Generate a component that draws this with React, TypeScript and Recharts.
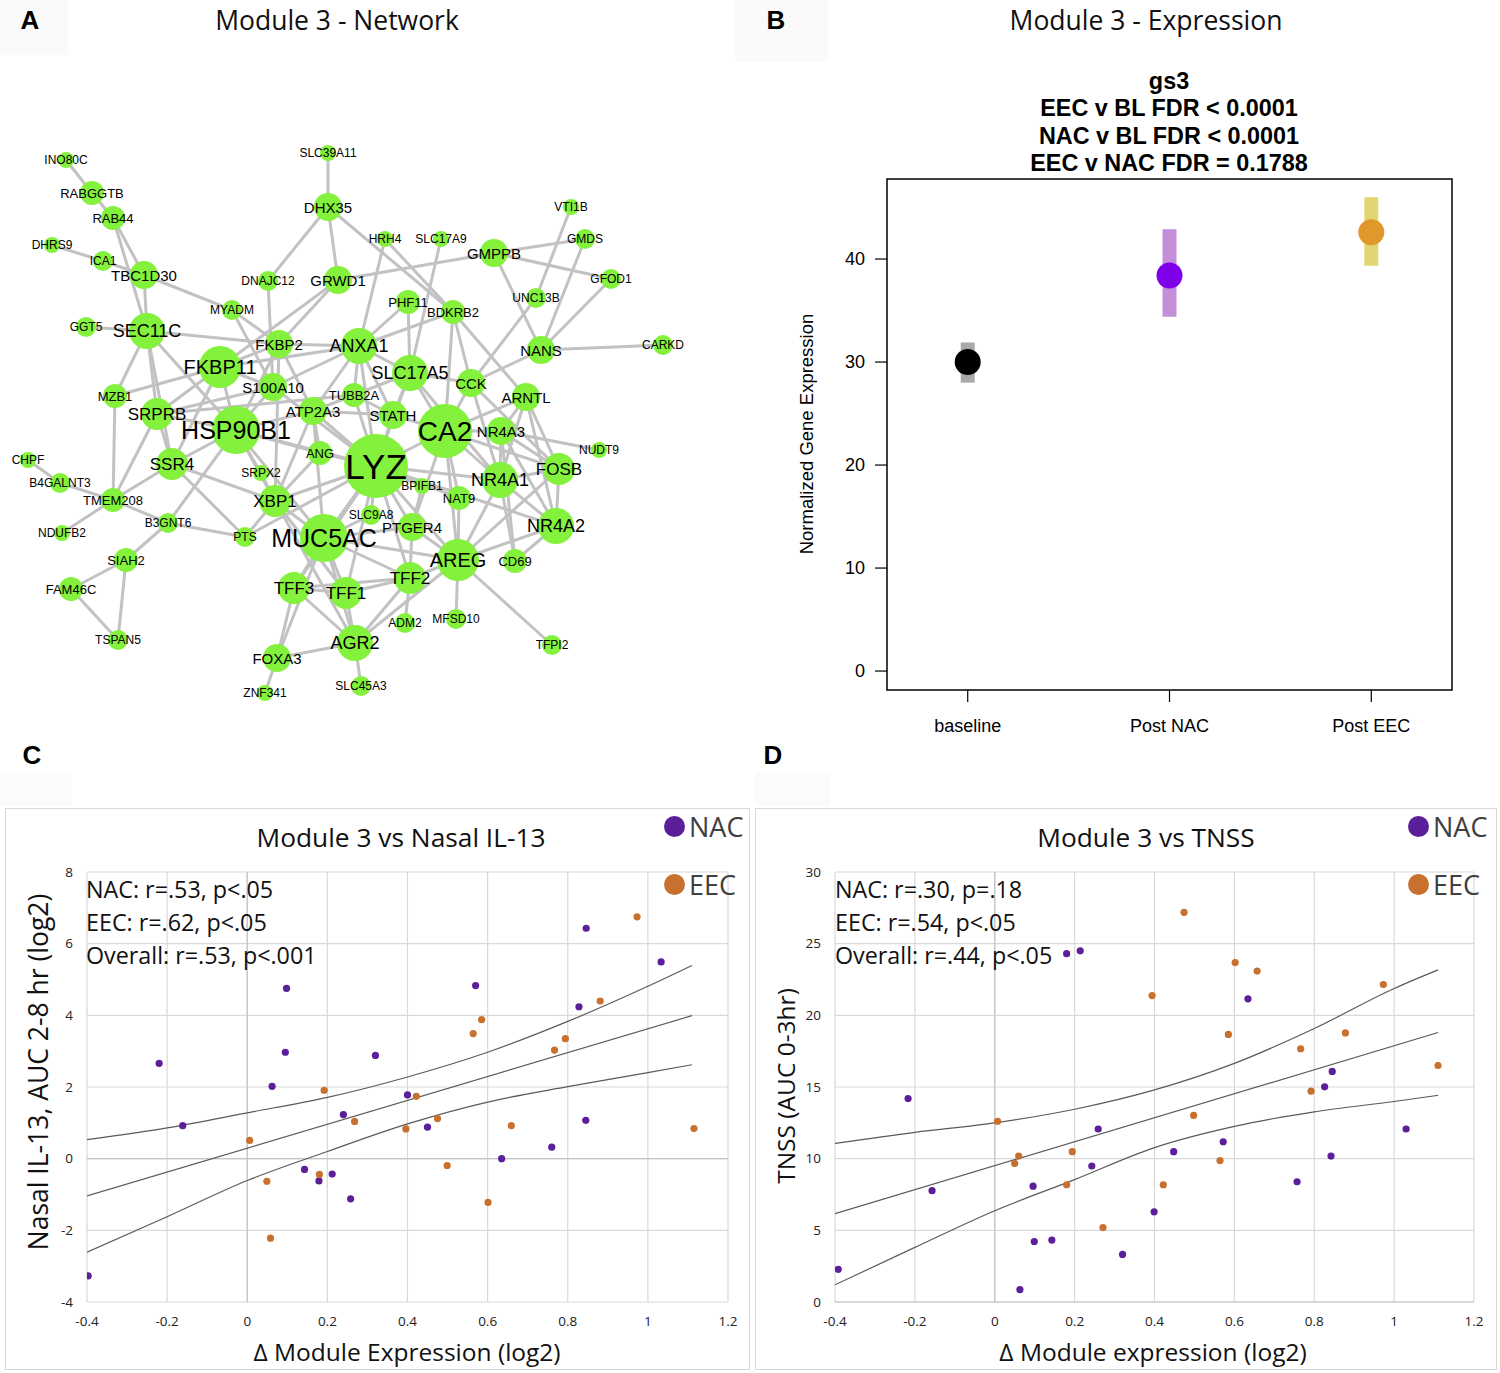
import React from "react";
import {
  ScatterChart,
  Scatter,
  XAxis,
  YAxis,
  CartesianGrid,
  ReferenceArea,
  ReferenceLine,
  ErrorBar,
} from "recharts";

// ---------- Panel A: module 3 network (layout coordinates + hub tier) ----------
const NET_NODES: [string, number, number, number][] = [
  ["INO80C", 66, 160, 1], ["RABGGTB", 92, 193, 3], ["RAB44", 113, 218, 3],
  ["DHRS9", 52, 245, 1], ["ICA1", 103, 261, 2], ["TBC1D30", 144, 275, 4],
  ["GGT5", 86, 327, 2], ["SEC11C", 147, 331, 6], ["MYADM", 232, 310, 2],
  ["DNAJC12", 268, 281, 2], ["GRWD1", 338, 280, 4], ["DHX35", 328, 207, 4],
  ["SLC39A11", 328, 153, 1], ["HRH4", 385, 239, 1], ["SLC17A9", 441, 239, 1],
  ["GMPPB", 494, 253, 4], ["VTI1B", 571, 207, 1], ["GMDS", 585, 239, 2],
  ["GFOD1", 611, 279, 2], ["UNC13B", 536, 298, 2], ["PHF11", 408, 302, 3],
  ["BDKRB2", 453, 312, 3], ["CARKD", 663, 345, 2], ["NANS", 541, 350, 4],
  ["ANXA1", 359, 346, 6], ["FKBP2", 279, 344, 4], ["FKBP11", 220, 367, 7],
  ["S100A10", 273, 387, 4], ["SLC17A5", 410, 373, 6], ["CCK", 471, 383, 4],
  ["ARNTL", 526, 397, 4], ["TUBB2A", 354, 395, 3], ["MZB1", 115, 396, 3],
  ["SRPRB", 157, 414, 5], ["HSP90B1", 236, 430, 8], ["ATP2A3", 313, 411, 4],
  ["STATH", 393, 415, 4], ["CA2", 445, 431, 9], ["NR4A3", 501, 431, 4],
  ["NUDT9", 599, 450, 1], ["ANG", 320, 453, 3], ["LYZ", 376, 466, 10],
  ["FOSB", 559, 469, 5], ["CHPF", 28, 460, 1], ["B4GALNT3", 60, 483, 2],
  ["SSR4", 172, 464, 5], ["SRPX2", 261, 473, 1], ["NR4A1", 500, 480, 6],
  ["BPIFB1", 422, 486, 1], ["NAT9", 459, 498, 3], ["TMEM208", 113, 500, 3],
  ["XBP1", 275, 501, 5], ["SLC9A8", 371, 515, 2], ["B3GNT6", 168, 523, 2],
  ["NR4A2", 556, 526, 6], ["PTGER4", 412, 527, 4], ["NDUFB2", 62, 533, 1],
  ["PTS", 245, 537, 2], ["MUC5AC", 324, 538, 8], ["AREG", 458, 560, 7],
  ["CD69", 515, 561, 3], ["SIAH2", 126, 560, 3], ["TFF2", 410, 578, 5],
  ["TFF3", 294, 588, 5], ["TFF1", 346, 593, 5], ["FAM46C", 71, 589, 3],
  ["MFSD10", 456, 619, 2], ["ADM2", 405, 623, 2], ["TSPAN5", 118, 640, 2],
  ["TFPI2", 552, 645, 2], ["AGR2", 355, 643, 6], ["FOXA3", 277, 658, 4],
  ["SLC45A3", 361, 686, 2], ["ZNF341", 265, 693, 1],
];

const NET_EDGES: [string, string][] = [
  ["INO80C", "RABGGTB"], ["RABGGTB", "RAB44"], ["RAB44", "TBC1D30"], ["RAB44", "SEC11C"],
  ["DHRS9", "ICA1"], ["ICA1", "TBC1D30"], ["TBC1D30", "SEC11C"], ["TBC1D30", "MYADM"],
  ["MYADM", "FKBP2"], ["MYADM", "S100A10"], ["GGT5", "SEC11C"], ["SEC11C", "FKBP2"],
  ["SEC11C", "MZB1"], ["SEC11C", "SRPRB"], ["SEC11C", "HSP90B1"], ["SEC11C", "SSR4"],
  ["DNAJC12", "DHX35"], ["DNAJC12", "S100A10"], ["DHX35", "SLC39A11"], ["DHX35", "GRWD1"],
  ["DHX35", "BDKRB2"], ["GRWD1", "GMPPB"], ["GRWD1", "FKBP2"], ["GRWD1", "FKBP11"],
  ["MZB1", "FKBP11"], ["MZB1", "TMEM208"], ["FKBP11", "ANXA1"], ["FKBP11", "HSP90B1"],
  ["FKBP11", "SRPRB"], ["FKBP11", "SSR4"], ["FKBP11", "S100A10"], ["FKBP11", "FKBP2"],
  ["FKBP2", "HSP90B1"], ["FKBP2", "ATP2A3"], ["FKBP2", "ANXA1"], ["FKBP2", "XBP1"],
  ["S100A10", "ANXA1"], ["S100A10", "HSP90B1"], ["S100A10", "LYZ"], ["S100A10", "SRPRB"],
  ["SRPRB", "TUBB2A"], ["SRPRB", "HSP90B1"], ["SRPRB", "SSR4"], ["SRPRB", "TMEM208"],
  ["HSP90B1", "ATP2A3"], ["HSP90B1", "LYZ"], ["HSP90B1", "XBP1"], ["HSP90B1", "SRPX2"],
  ["HSP90B1", "SSR4"], ["HSP90B1", "B3GNT6"], ["HSP90B1", "MUC5AC"], ["HSP90B1", "ANG"],
  ["HRH4", "ANXA1"], ["HRH4", "BDKRB2"], ["SLC17A9", "SLC17A5"], ["GMPPB", "GMDS"],
  ["GMPPB", "GFOD1"], ["GMPPB", "NANS"], ["VTI1B", "UNC13B"], ["GMDS", "NANS"],
  ["GFOD1", "NANS"], ["UNC13B", "CCK"], ["NANS", "CARKD"], ["NANS", "CCK"],
  ["PHF11", "SLC17A5"], ["PHF11", "ANXA1"], ["BDKRB2", "ANXA1"], ["BDKRB2", "CA2"],
  ["BDKRB2", "CCK"], ["BDKRB2", "ARNTL"], ["ANXA1", "TUBB2A"], ["ANXA1", "LYZ"],
  ["ANXA1", "SLC17A5"], ["ANXA1", "ATP2A3"], ["ANXA1", "STATH"], ["SLC17A5", "CA2"],
  ["SLC17A5", "LYZ"], ["SLC17A5", "STATH"], ["SLC17A5", "TUBB2A"], ["SLC17A5", "CCK"],
  ["SLC17A5", "NR4A1"], ["CCK", "CA2"], ["CCK", "NR4A1"], ["CCK", "FOSB"],
  ["ARNTL", "CA2"], ["ARNTL", "NR4A3"], ["ARNTL", "FOSB"], ["ARNTL", "NR4A2"],
  ["ARNTL", "NR4A1"], ["TUBB2A", "LYZ"], ["TUBB2A", "ATP2A3"], ["TUBB2A", "STATH"],
  ["ATP2A3", "LYZ"], ["ATP2A3", "ANG"], ["ATP2A3", "STATH"], ["ATP2A3", "XBP1"],
  ["ATP2A3", "MUC5AC"], ["STATH", "LYZ"], ["STATH", "CA2"], ["CA2", "LYZ"],
  ["CA2", "NR4A3"], ["CA2", "NR4A1"], ["CA2", "NAT9"], ["CA2", "AREG"],
  ["CA2", "PTGER4"], ["CA2", "FOSB"], ["NR4A3", "NR4A1"], ["NR4A3", "FOSB"],
  ["NR4A3", "NUDT9"], ["NR4A3", "NR4A2"], ["NR4A3", "CD69"], ["NR4A1", "FOSB"],
  ["NR4A1", "NR4A2"], ["NR4A1", "AREG"], ["NR4A1", "CD69"], ["NR4A1", "LYZ"],
  ["FOSB", "NR4A2"], ["FOSB", "AREG"], ["NR4A2", "AREG"], ["NR4A2", "CD69"],
  ["LYZ", "ANG"], ["LYZ", "XBP1"], ["LYZ", "MUC5AC"], ["LYZ", "SLC9A8"],
  ["LYZ", "PTGER4"], ["LYZ", "BPIFB1"], ["LYZ", "AREG"], ["LYZ", "TFF2"],
  ["LYZ", "NAT9"], ["LYZ", "PTS"], ["LYZ", "TFF1"], ["LYZ", "TFF3"],
  ["LYZ", "NR4A2"], ["BPIFB1", "PTGER4"], ["NAT9", "AREG"], ["PTGER4", "AREG"],
  ["PTGER4", "TFF2"], ["PTGER4", "MUC5AC"], ["SLC9A8", "MUC5AC"], ["XBP1", "ANG"],
  ["XBP1", "MUC5AC"], ["XBP1", "PTS"], ["XBP1", "TFF1"], ["XBP1", "AGR2"],
  ["XBP1", "SSR4"], ["XBP1", "SRPX2"], ["SSR4", "PTS"], ["SSR4", "TMEM208"],
  ["CHPF", "B4GALNT3"], ["B4GALNT3", "TMEM208"], ["NDUFB2", "TMEM208"], ["TMEM208", "B3GNT6"],
  ["B3GNT6", "PTS"], ["B3GNT6", "SIAH2"], ["SIAH2", "FAM46C"], ["SIAH2", "TSPAN5"],
  ["FAM46C", "TSPAN5"], ["MUC5AC", "TFF3"], ["MUC5AC", "TFF1"], ["MUC5AC", "AGR2"],
  ["MUC5AC", "TFF2"], ["MUC5AC", "FOXA3"], ["MUC5AC", "AREG"], ["TFF3", "TFF1"],
  ["TFF3", "FOXA3"], ["TFF3", "AGR2"], ["TFF3", "TFF2"], ["TFF1", "AGR2"],
  ["TFF1", "TFF2"], ["TFF2", "AGR2"], ["TFF2", "AREG"], ["TFF2", "ADM2"],
  ["AGR2", "FOXA3"], ["AGR2", "SLC45A3"], ["AGR2", "AREG"], ["FOXA3", "ZNF341"],
  ["AREG", "TFPI2"], ["AREG", "MFSD10"],
];

// ---------- Panel B: module expression by visit ----------
const GROUPS = ["baseline", "Post NAC", "Post EEC"];
const GROUP_MEAN = [30.0, 38.4, 42.6];
const GROUP_LOW = [28.0, 34.4, 39.35];
const GROUP_HIGH = [31.9, 42.9, 46.0];

// ---------- Panel C: module 3 vs nasal IL-13 ----------
const C_NAC: [number, number][] = [
  [-0.397, -3.27], [-0.22, 2.66], [-0.161, 0.92], [0.098, 4.75], [0.095, 2.97],
  [0.062, 2.02], [0.143, -0.3], [0.179, -0.62], [0.212, -0.43], [0.24, 1.23],
  [0.258, -1.12], [0.32, 2.88], [0.4, 1.78], [0.45, 0.88], [0.57, 4.83],
  [0.635, 0.0], [0.76, 0.32], [0.828, 4.24], [0.846, 6.43], [0.845, 1.07],
  [1.033, 5.49],
];
const C_EEC: [number, number][] = [
  [0.006, 0.51], [0.049, -0.63], [0.058, -2.22], [0.18, -0.44], [0.192, 1.91],
  [0.268, 1.04], [0.396, 0.83], [0.422, 1.74], [0.475, 1.12], [0.499, -0.19],
  [0.564, 3.49], [0.585, 3.88], [0.601, -1.22], [0.659, 0.92], [0.767, 3.03],
  [0.794, 3.35], [0.881, 4.4], [0.973, 6.75], [1.115, 0.84],
];
const C_FIT: [number, number][] = [[-0.4, -1.04], [1.11, 3.99]];
const C_UPPER: [number, number][] = [
  [-0.4, 0.53], [-0.2, 0.86], [0, 1.28], [0.2, 1.71], [0.4, 2.28],
  [0.6, 2.97], [0.8, 3.83], [1.0, 4.81], [1.11, 5.39],
];
const C_LOWER: [number, number][] = [
  [-0.4, -2.61], [-0.2, -1.62], [0, -0.61], [0.2, 0.2], [0.4, 0.97],
  [0.6, 1.58], [0.8, 2.01], [1.0, 2.4], [1.11, 2.62],
];

// ---------- Panel D: module 3 vs TNSS ----------
const D_NAC: [number, number][] = [
  [-0.392, 2.28], [-0.217, 14.19], [-0.157, 7.77], [0.063, 0.87], [0.096, 8.08],
  [0.099, 4.22], [0.143, 4.32], [0.18, 24.3], [0.214, 24.5], [0.243, 9.49],
  [0.259, 12.07], [0.32, 3.32], [0.399, 6.29], [0.448, 10.49], [0.572, 11.18],
  [0.634, 21.15], [0.757, 8.39], [0.826, 15.01], [0.845, 16.09], [0.842, 10.18],
  [1.03, 12.07],
];
const D_EEC: [number, number][] = [
  [0.007, 12.61], [0.05, 9.67], [0.06, 10.18], [0.18, 8.18], [0.194, 10.49],
  [0.271, 5.19], [0.394, 21.38], [0.422, 8.18], [0.474, 27.19], [0.498, 13.02],
  [0.564, 9.87], [0.585, 18.67], [0.602, 23.68], [0.657, 23.09], [0.766, 17.67],
  [0.792, 14.71], [0.878, 18.77], [0.973, 22.15], [1.11, 16.5],
];
const D_FIT: [number, number][] = [[-0.4, 6.16], [1.11, 18.8]];
const D_UPPER: [number, number][] = [
  [-0.4, 11.07], [-0.2, 11.84], [0, 12.5], [0.2, 13.45], [0.4, 14.8],
  [0.6, 16.65], [0.8, 19.08], [1.0, 21.87], [1.11, 23.17],
];
const D_LOWER: [number, number][] = [
  [-0.4, 1.2], [-0.2, 3.81], [0, 6.37], [0.2, 8.54], [0.4, 10.77],
  [0.6, 12.25], [0.8, 13.27], [1.0, 13.99], [1.11, 14.42],
];

const X_TICKS = [-0.4, -0.2, 0, 0.2, 0.4, 0.6, 0.8, 1, 1.2];

const ARIAL = "'Liberation Sans', Arial, sans-serif";
const OFFICE = "'Open Sans', 'Segoe UI', sans-serif";
const NODE_FILL = "#84f23c";
const EDGE = "#c2c2c2";
const NAC_COL = "#5b1f9a";
const EEC_COL = "#c8702e";

const TIER_R = [0, 8, 10, 12, 14, 16, 18, 21, 24, 27, 32];
const TIER_FONT = [0, 12, 12, 13, 15, 17, 18, 20, 25, 28, 35];

const toPts = (arr: [number, number][]) => arr.map(([x, y]) => ({ x, y }));
const NoShape = () => <g />;

const nodeData = NET_NODES.map(([name, x, y, tier]) => ({ name, x, y, tier }));
const nodeIndex: Record<string, { x: number; y: number }> = {};
nodeData.forEach((n) => (nodeIndex[n.name] = n));

const NodeDot = (p: any) => (
  <circle cx={p.cx} cy={p.cy} r={TIER_R[p.payload.tier]} fill={NODE_FILL} />
);
const NodeLabel = (p: any) => (
  <text
    x={p.cx}
    y={p.cy}
    textAnchor="middle"
    dominantBaseline="central"
    fontSize={TIER_FONT[p.payload.tier]}
    fontFamily={ARIAL}
    fill="#000"
  >
    {p.payload.name}
  </text>
);

const Abs: React.FC<{ x: number; y: number; style?: React.CSSProperties; rotate?: boolean; children: React.ReactNode }> = ({
  x, y, style, rotate, children,
}) => (
  <div
    style={{
      position: "absolute",
      left: x,
      top: y,
      transform: `translate(-50%, -50%)${rotate ? " rotate(-90deg)" : ""}`,
      whiteSpace: "nowrap",
      lineHeight: 1,
      ...style,
    }}
  >
    {children}
  </div>
);

const NetworkPanel = () => (
  <ScatterChart width={700} height={720} margin={{ top: 0, right: 0, bottom: 0, left: 0 }}>
    <XAxis type="number" dataKey="x" domain={[0, 700]} hide allowDataOverflow />
    <YAxis type="number" dataKey="y" domain={[0, 720]} reversed hide allowDataOverflow />
    {NET_EDGES.map(([a, b], i) => (
      <Scatter
        key={i}
        data={[nodeIndex[a], nodeIndex[b]]}
        line={{ stroke: EDGE, strokeWidth: 3 }}
        shape={NoShape}
        legendType="none"
        isAnimationActive={false}
      />
    ))}
    <Scatter data={nodeData} shape={NodeDot} isAnimationActive={false} />
    <Scatter data={nodeData} shape={NodeLabel} isAnimationActive={false} />
  </ScatterChart>
);

const BAR_COLS = ["#a9a9a9", "#c48ed8", "#e2d672"];
const PT_COLS = ["#000000", "#7d00e8", "#e0982a"];
const B_DOMAIN: [number, number] = [-1.84, 47.77];

const ExpressionPanel = () => (
  <ScatterChart width={720} height={580} margin={{ top: 9, right: 28, bottom: 0, left: 67 }}>
    <XAxis
      type="number"
      dataKey="pos"
      domain={[0.6, 3.4]}
      ticks={[1, 2, 3]}
      tickFormatter={(v: number) => GROUPS[v - 1]}
      axisLine={false}
      tickLine={{ stroke: "#000", strokeWidth: 1.2 }}
      tickSize={12}
      tickMargin={17}
      height={60}
      tick={{ fill: "#000", fontSize: 18, fontFamily: ARIAL }}
      allowDataOverflow
    />
    <YAxis
      type="number"
      dataKey="value"
      domain={B_DOMAIN}
      ticks={[0, 10, 20, 30, 40]}
      axisLine={false}
      tickLine={{ stroke: "#000", strokeWidth: 1.2 }}
      tickSize={12}
      tickMargin={10}
      width={60}
      tick={{ fill: "#000", fontSize: 18, fontFamily: ARIAL }}
      allowDataOverflow
    />
    <ReferenceArea x1={0.6} x2={3.4} y1={B_DOMAIN[0]} y2={B_DOMAIN[1]} fill="none" stroke="#000" strokeWidth={1.5} fillOpacity={0} />
    {GROUPS.map((g, i) => (
      <Scatter
        key={g}
        data={[{ pos: i + 1, value: GROUP_MEAN[i], err: [GROUP_MEAN[i] - GROUP_LOW[i], GROUP_HIGH[i] - GROUP_MEAN[i]] }]}
        shape={(p: any) => <circle cx={p.cx} cy={p.cy} r={13} fill={PT_COLS[i]} />}
        isAnimationActive={false}
      >
        <ErrorBar dataKey="err" direction="y" width={0} strokeWidth={14} stroke={BAR_COLS[i]} isAnimationActive={false} />
      </Scatter>
    ))}
  </ScatterChart>
);

type CorrProps = {
  yDomain: [number, number];
  yTicks: number[];
  nac: [number, number][];
  eec: [number, number][];
  fit: [number, number][];
  upper: [number, number][];
  lower: [number, number][];
  width: number;
  left: number;
  right: number;
};

const CorrChart = ({ yDomain, yTicks, nac, eec, fit, upper, lower, width, left, right }: CorrProps) => (
  <ScatterChart width={width} height={562} margin={{ top: 64, right, bottom: 0, left }}>
    <CartesianGrid stroke="#d9d9d9" strokeWidth={1.2} />
    <XAxis
      type="number"
      dataKey="x"
      domain={[-0.4, 1.2]}
      ticks={X_TICKS}
      axisLine={false}
      tickLine={false}
      tickSize={0}
      tickMargin={14}
      height={68}
      tick={{ fill: "#222", fontSize: 13.5, fontFamily: OFFICE }}
      allowDataOverflow
    />
    <YAxis
      type="number"
      dataKey="y"
      domain={yDomain}
      ticks={yTicks}
      axisLine={false}
      tickLine={false}
      tickSize={0}
      tickMargin={14}
      width={40}
      tick={{ fill: "#222", fontSize: 13.5, fontFamily: OFFICE }}
      allowDataOverflow
    />
    <ReferenceLine y={0} stroke="#c4c4c4" strokeWidth={1.2} />
    <ReferenceLine x={0} stroke="#c4c4c4" strokeWidth={1.2} />
    {[fit, upper, lower].map((c, i) => (
      <Scatter
        key={i}
        data={toPts(c)}
        line={{ stroke: "#5a5a5a", strokeWidth: 1.2 }}
        lineJointType="monotoneX"
        shape={NoShape}
        isAnimationActive={false}
      />
    ))}
    <Scatter data={toPts(nac)} shape={(p: any) => <circle cx={p.cx} cy={p.cy} r={3.6} fill={NAC_COL} />} isAnimationActive={false} />
    <Scatter data={toPts(eec)} shape={(p: any) => <circle cx={p.cx} cy={p.cy} r={3.6} fill={EEC_COL} />} isAnimationActive={false} />
  </ScatterChart>
);

const LegendBlock = ({ x, y }: { x: number; y: number }) => (
  <>
    {[
      ["NAC", NAC_COL, 0],
      ["EEC", EEC_COL, 58],
    ].map(([name, col, dy]) => (
      <div
        key={name as string}
        style={{ position: "absolute", left: x, top: y + (dy as number) - 16, display: "flex", alignItems: "center", height: 32 }}
      >
        <span style={{ width: 21, height: 21, borderRadius: "50%", background: col as string, display: "inline-block" }} />
        <span style={{ marginLeft: 4, fontFamily: OFFICE, fontSize: 27, color: "#404040" }}>{name}</span>
      </div>
    ))}
  </>
);

const StatsBlock = ({ x, lines }: { x: number; lines: string[] }) => (
  <>
    {lines.map((t, i) => (
      <div
        key={t}
        style={{ position: "absolute", left: x, top: 889 + i * 33 - 14, fontFamily: OFFICE, fontSize: 23.3, lineHeight: "28px", color: "#111", whiteSpace: "nowrap" }}
      >
        {t}
      </div>
    ))}
  </>
);

const letterStyle: React.CSSProperties = { fontFamily: ARIAL, fontWeight: 700, fontSize: 26, color: "#000" };
const headStyle: React.CSSProperties = { fontFamily: OFFICE, fontSize: 26.5, color: "#111" };
const bTitle: React.CSSProperties = { fontFamily: ARIAL, fontWeight: 700, fontSize: 23.4, color: "#000" };
const axisTitle: React.CSSProperties = { fontFamily: OFFICE, fontSize: 24.5, color: "#111" };

export default function App() {
  return (
    <div style={{ position: "absolute", left: 0, top: 0, width: 1500, height: 1373, background: "#fff", overflow: "hidden" }}>
      {/* faint letter tiles */}
      <div style={{ position: "absolute", left: 0, top: 0, width: 68, height: 55, background: "#fafafa" }} />
      <div style={{ position: "absolute", left: 735, top: 0, width: 93, height: 62, background: "#fafafa" }} />
      <div style={{ position: "absolute", left: 0, top: 772, width: 72, height: 34, background: "#fbfbfb" }} />
      <div style={{ position: "absolute", left: 755, top: 772, width: 75, height: 34, background: "#fbfbfb" }} />

      {/* Panel A */}
      <div style={{ position: "absolute", left: 0, top: 0 }}>
        <NetworkPanel />
      </div>
      <Abs x={30} y={20} style={letterStyle}>A</Abs>
      <Abs x={337} y={20} style={headStyle}>Module 3 - Network</Abs>

      {/* Panel B */}
      <div style={{ position: "absolute", left: 760, top: 170 }}>
        <ExpressionPanel />
      </div>
      <Abs x={776} y={20} style={letterStyle}>B</Abs>
      <Abs x={1146} y={20} style={headStyle}>Module 3 - Expression</Abs>
      <Abs x={1169} y={82} style={bTitle}>gs3</Abs>
      <Abs x={1169} y={109} style={bTitle}>EEC v BL FDR &lt; 0.0001</Abs>
      <Abs x={1169} y={137} style={bTitle}>NAC v BL FDR &lt; 0.0001</Abs>
      <Abs x={1169} y={164} style={bTitle}>EEC v NAC FDR = 0.1788</Abs>
      <Abs x={807} y={434} rotate style={{ fontFamily: ARIAL, fontSize: 18.5, color: "#000" }}>
        Normalized Gene Expression
      </Abs>

      {/* Panel C */}
      <div style={{ position: "absolute", left: 5, top: 808, width: 745, height: 562, border: "1px solid #d9d9d9", boxSizing: "border-box" }} />
      <div style={{ position: "absolute", left: 5, top: 808 }}>
        <CorrChart
          yDomain={[-4, 8]}
          yTicks={[-4, -2, 0, 2, 4, 6, 8]}
          nac={C_NAC}
          eec={C_EEC}
          fit={C_FIT}
          upper={C_UPPER}
          lower={C_LOWER}
          width={745}
          left={42}
          right={22}
        />
      </div>
      <Abs x={32} y={755} style={letterStyle}>C</Abs>
      <Abs x={401} y={837} style={{ fontFamily: OFFICE, fontSize: 26.3, color: "#111" }}>Module 3 vs Nasal IL-13</Abs>
      <LegendBlock x={664} y={826} />
      <StatsBlock x={86} lines={["NAC: r=.53, p<.05", "EEC: r=.62, p<.05", "Overall: r=.53, p<.001"]} />
      <Abs x={38} y={1072} rotate style={{ ...axisTitle, fontSize: 26.5 }}>Nasal IL-13, AUC 2-8 hr (log2)</Abs>
      <Abs x={407} y={1352} style={axisTitle}>Δ Module Expression (log2)</Abs>

      {/* Panel D */}
      <div style={{ position: "absolute", left: 755, top: 808, width: 742, height: 562, border: "1px solid #d9d9d9", boxSizing: "border-box" }} />
      <div style={{ position: "absolute", left: 755, top: 808 }}>
        <CorrChart
          yDomain={[0, 30]}
          yTicks={[0, 5, 10, 15, 20, 25, 30]}
          nac={D_NAC}
          eec={D_EEC}
          fit={D_FIT}
          upper={D_UPPER}
          lower={D_LOWER}
          width={742}
          left={40}
          right={23}
        />
      </div>
      <Abs x={773} y={755} style={letterStyle}>D</Abs>
      <Abs x={1146} y={837} style={{ fontFamily: OFFICE, fontSize: 26.3, color: "#111" }}>Module 3 vs TNSS</Abs>
      <LegendBlock x={1408} y={826} />
      <StatsBlock x={835} lines={["NAC: r=.30, p=.18", "EEC: r=.54, p<.05", "Overall: r=.44, p<.05"]} />
      <Abs x={786} y={1086} rotate style={axisTitle}>TNSS (AUC 0-3hr)</Abs>
      <Abs x={1153} y={1352} style={axisTitle}>Δ Module expression (log2)</Abs>
    </div>
  );
}
